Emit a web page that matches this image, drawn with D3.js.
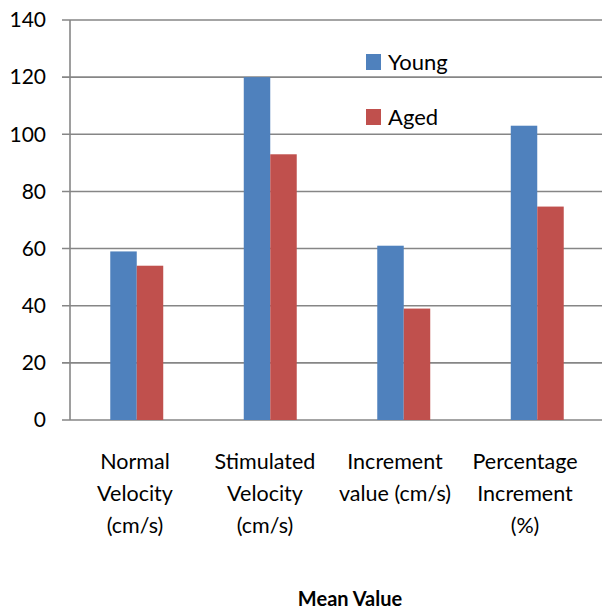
<!DOCTYPE html>
<html><head><meta charset="utf-8">
<script src="https://cdn.jsdelivr.net/npm/d3@7"></script>
<style>body{margin:0;background:#fff}svg{display:block;font-family:Lato,"Open Sans",sans-serif}</style>
</head><body>
<svg id="c" width="602" height="614"></svg>
<script>
const categories = ["Normal Velocity (cm/s)", "Stimulated Velocity (cm/s)", "Increment value (cm/s)", "Percentage Increment (%)"];
const categoryLines = [["Normal","Velocity","(cm/s)"],["Stimulated","Velocity","(cm/s)"],["Increment","value (cm/s)"],["Percentage","Increment","(%)"]];
const seriesNames = ["Young", "Aged"];
const young = [59, 120, 61, 103];
const aged = [54, 93, 39, 74.7];
const yTicks = [0, 20, 40, 60, 80, 100, 120, 140];
const colors = ["#4F81BD", "#C0504D"];
const xTitle = "Mean Value";

(function(){
const svg = d3.select("#c");
const mLeft = 70, mRight = 604, mTop = 20, mBottom = 420;
const y = d3.scaleLinear().domain([0, 140]).range([mBottom, mTop]);
const x0 = d3.scaleBand().domain(categories).range([mLeft, mRight]).padding(0);
const x1 = d3.scaleBand().domain(seriesNames).range([0, x0.bandwidth()]).paddingInner(0).paddingOuter(1.52);
const labelX = d3.scalePoint().domain(categories).range([135, 525]);

// gridlines
svg.append("g").selectAll("line").data(yTicks).join("line")
  .attr("x1", mLeft - 8).attr("x2", mRight).attr("y1", d => y(d)).attr("y2", d => y(d))
  .attr("stroke", "#868686").attr("stroke-width", 1.6);
// y axis line
svg.append("line").attr("x1", mLeft).attr("x2", mLeft).attr("y1", y(140)).attr("y2", y(0))
  .attr("stroke", "#868686").attr("stroke-width", 1.6);
// y tick labels
svg.append("g").selectAll("text").data(yTicks).join("text")
  .attr("x", 46).attr("y", d => y(d)).attr("dy", "0.35em").attr("text-anchor", "end")
  .attr("font-size", 21).attr("fill", "#000").text(d => d);

// bars
const data = categories.map((c, i) => ({c, vals: [young[i], aged[i]]}));
const g = svg.append("g").selectAll("g").data(data).join("g")
  .attr("transform", d => `translate(${x0(d.c)},0)`);
g.selectAll("rect").data(d => d.vals.map((v, j) => ({s: seriesNames[j], v, j}))).join("rect")
  .attr("x", d => x1(d.s)).attr("width", x1.bandwidth())
  .attr("y", d => y(d.v)).attr("height", d => y(0) - y(d.v))
  .attr("fill", d => colors[d.j]);

// category labels
const cl = svg.append("g").selectAll("text").data(categories).join("text")
  .attr("text-anchor", "middle").attr("font-size", 21.5).attr("fill", "#000");
cl.each(function(c, i) {
  d3.select(this).selectAll("tspan").data(categoryLines[i]).join("tspan")
    .attr("x", labelX(c)).attr("y", (d, k) => 469 + k * 32).text(d => d);
});

// x title
svg.append("text").attr("x", 350).attr("y", 606).attr("text-anchor", "middle")
  .attr("font-size", 20).attr("font-weight", "bold").text(xTitle);

// legend
const lg = svg.append("g").selectAll("g").data(seriesNames).join("g")
  .attr("transform", (d, i) => `translate(366,${54 + i * 55})`);
lg.append("rect").attr("width", 15).attr("height", 16).attr("fill", (d, i) => colors[i]);
lg.append("text").attr("x", 22).attr("y", 16).attr("font-size", 22).attr("fill", "#000").text(d => d);
})();
</script>
</body></html>
